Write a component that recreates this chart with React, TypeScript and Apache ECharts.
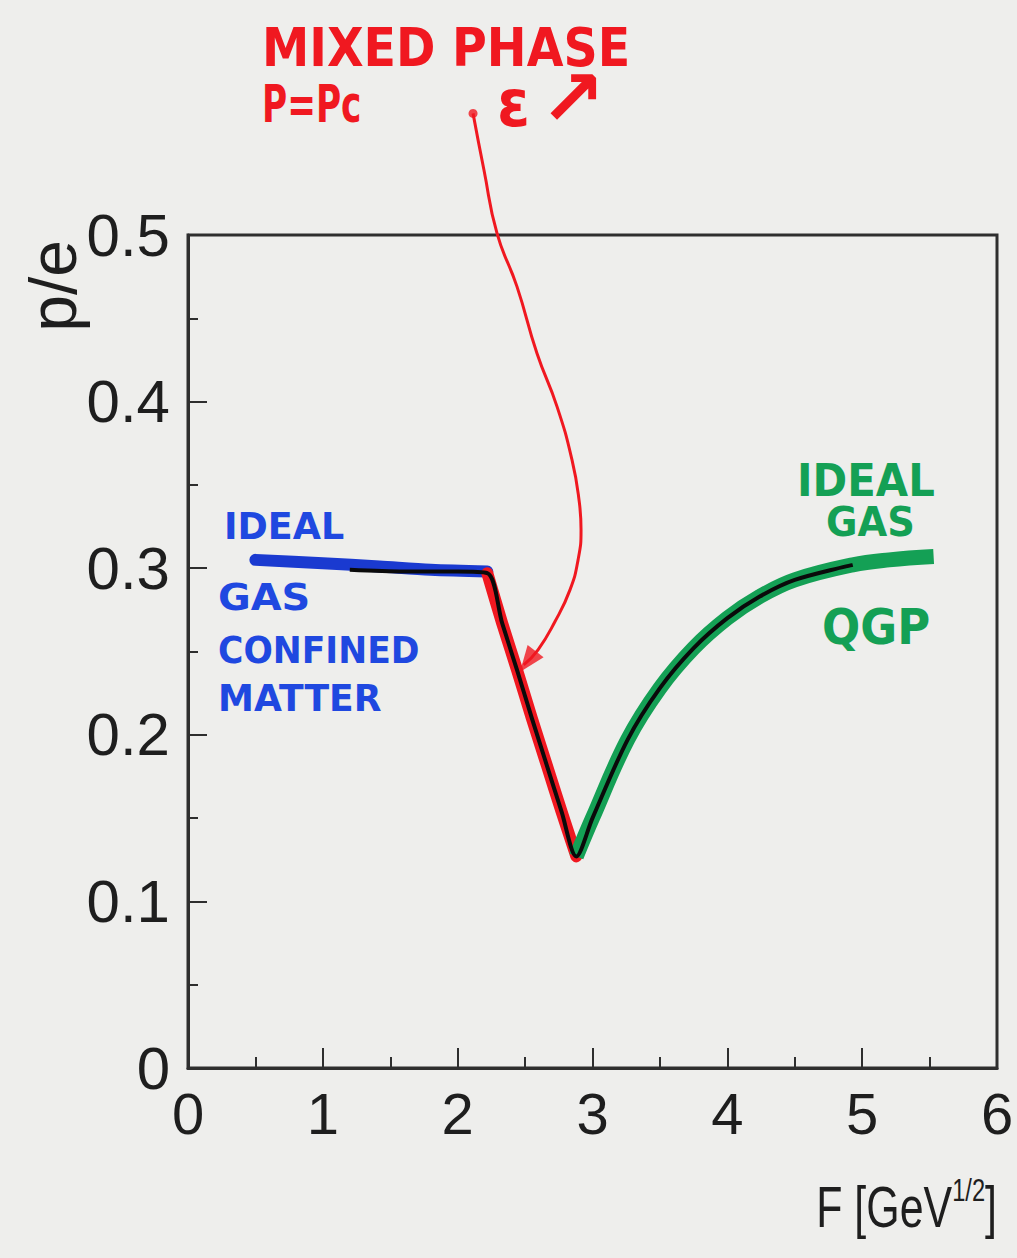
import React, { useEffect, useRef } from "react";
import * as echarts from "echarts";

// ---- data ----
const xTicks = [0, 1, 2, 3, 4, 5, 6];
const yTicks = [0, 0.1, 0.2, 0.3, 0.4, 0.5];

// hadron gas (blue marker)
const blueF = [0.5, 1.0, 1.42, 1.8, 2.22];
const blueV = [0.305, 0.303, 0.301, 0.299, 0.298];

// mixed phase (red marker)
const redF = [2.22, 2.33, 2.44, 2.55, 2.66, 2.77, 2.88];
const redV = [0.297, 0.267, 0.239, 0.21, 0.182, 0.154, 0.127];

// QGP (green marker)
const greenF = [2.88, 3.0, 3.26, 3.5, 3.75, 4.0, 4.24, 4.5, 4.93, 5.2, 5.53];
const greenV = [0.127, 0.15, 0.197, 0.228, 0.252, 0.27, 0.283, 0.293, 0.302, 0.305, 0.307];

// underlying black curve
const blackF = [1.2, 1.6, 2.0, 2.22, 2.33, 2.44, 2.55, 2.66, 2.77, 2.88, 3.0, 3.26, 3.5, 3.75, 4.0, 4.24, 4.5, 4.93];
const blackV = [0.299, 0.298, 0.298, 0.297, 0.267, 0.239, 0.21, 0.182, 0.154, 0.127, 0.15, 0.197, 0.228, 0.252, 0.27, 0.283, 0.293, 0.302];

// hand-drawn annotation arrow (data coordinates)
const arrowF = [2.114, 2.195, 2.292, 2.44, 2.588, 2.737, 2.848, 2.9, 2.915, 2.893, 2.833, 2.722, 2.596, 2.49];
const arrowV = [0.573, 0.539, 0.501, 0.469, 0.429, 0.397, 0.365, 0.341, 0.323, 0.305, 0.287, 0.268, 0.251, 0.242];
const arrowHead = [2.52, 0.244];

const zip = (a: number[], b: number[]) => a.map((v, i) => [v, b[i]]);

const HAND = "'DejaVu Sans', sans-serif";
const RED = "#f01820";
const BLUE = "#1f48e0";
const GREEN = "#14a055";
const AXIS = "#2e2e2e";
const LABEL_FONT = "'Liberation Sans', Arial, sans-serif";

export default function App() {
  const ref = useRef<HTMLDivElement>(null);

  useEffect(() => {
    document.body.style.margin = "0";
    const chart = echarts.init(ref.current!, undefined, { renderer: "svg" });

    const handText = (text: string, x: number, y: number, size: number, color: string, sx = 1) => ({
      type: "text",
      x,
      y,
      scaleX: sx,
      style: {
        text,
        fill: color,
        font: `bold ${size}px ${HAND}`,
        textAlign: "left",
        textVerticalAlign: "middle",
      },
    });

    chart.setOption({
      animation: false,
      backgroundColor: "#eeeeec",
      grid: {
        left: 188,
        top: 235,
        right: 20,
        bottom: 190,
        show: true,
        borderColor: AXIS,
        borderWidth: 3,
        backgroundColor: "transparent",
      },
      xAxis: {
        type: "value",
        min: 0,
        max: 6,
        interval: 1,
        axisLine: { show: true, onZero: false, lineStyle: { color: AXIS, width: 3 } },
        axisTick: { show: true, inside: true, length: 20, lineStyle: { color: AXIS, width: 2 } },
        minorTick: { show: true, splitNumber: 2, length: 11, lineStyle: { color: AXIS, width: 2 } },
        splitLine: { show: false },
        axisLabel: {
          margin: 16,
          fontSize: 58,
          color: "#1e1e1e",
          fontFamily: LABEL_FONT,
          formatter: (v: number) => (xTicks.includes(v) ? String(v) : ""),
        },
      },
      yAxis: {
        type: "value",
        min: 0,
        max: 0.5,
        interval: 0.1,
        axisLine: { show: true, onZero: false, lineStyle: { color: AXIS, width: 3 } },
        axisTick: { show: true, inside: true, length: 19, lineStyle: { color: AXIS, width: 2 } },
        minorTick: { show: true, splitNumber: 2, length: 10, lineStyle: { color: AXIS, width: 2 } },
        splitLine: { show: false },
        axisLabel: {
          margin: 18,
          fontSize: 60,
          color: "#1e1e1e",
          fontFamily: LABEL_FONT,
          formatter: (v: number) => {
            const t = yTicks.find((k) => Math.abs(k - v) < 1e-9);
            return t === undefined ? "" : t === 0 ? "0" : t.toFixed(1);
          },
        },
      },
      series: [
        {
          type: "line",
          data: zip(blueF, blueV),
          showSymbol: false,
          symbol: "none",
          smooth: 0.3,
          lineStyle: { color: "#1a3ad0", width: 12, cap: "round", join: "round" },
          z: 2,
        },
        {
          type: "line",
          data: zip(redF, redV),
          showSymbol: false,
          symbol: "none",
          smooth: 0.3,
          lineStyle: { color: RED, width: 12, cap: "round", join: "round" },
          z: 2,
        },
        {
          type: "line",
          data: zip(greenF, greenV),
          showSymbol: false,
          symbol: "none",
          smooth: 0.4,
          lineStyle: { color: GREEN, width: 15, cap: "butt", join: "round" },
          z: 2,
        },
        {
          type: "line",
          data: zip(blackF, blackV),
          showSymbol: false,
          symbol: "none",
          smooth: 0.3,
          lineStyle: { color: "#0a0a0a", width: 4, join: "round" },
          z: 3,
        },
        {
          type: "line",
          data: zip(arrowF, arrowV),
          showSymbol: false,
          symbol: "none",
          smooth: 0.5,
          clip: false,
          lineStyle: { color: RED, width: 3 },
          z: 4,
        },
        {
          type: "scatter",
          clip: false,
          data: [arrowHead],
          symbol: "triangle",
          symbolSize: [20, 26],
          symbolRotate: 143,
          itemStyle: { color: RED },
          z: 5,
        },
        {
          type: "scatter",
          clip: false,
          data: [[arrowF[0], arrowV[0]]],
          symbol: "circle",
          symbolSize: 9,
          itemStyle: { color: RED },
          z: 5,
        },
      ],
      graphic: [
        // y axis title, rotated
        {
          type: "text",
          x: 53,
          y: 240,
          rotation: Math.PI / 2,
          style: {
            text: "p/e",
            fill: "#1e1e1e",
            font: `66px ${LABEL_FONT}`,
            textAlign: "right",
            textVerticalAlign: "middle",
          },
        },
        // x axis title with superscript
        {
          type: "text",
          x: 997,
          y: 1236,
          scaleX: 0.74,
          style: {
            text: "{a|F [GeV}{s|1/2}{a|]}",
            textAlign: "right",
            textVerticalAlign: "bottom",
            rich: {
              a: { fontSize: 58, fontFamily: LABEL_FONT, fill: "#1e1e1e", lineHeight: 62, verticalAlign: "bottom" },
              s: { fontSize: 32, fontFamily: LABEL_FONT, fill: "#1e1e1e", lineHeight: 62, verticalAlign: "top" },
            },
          },
        },
        handText("MIXED PHASE", 262, 47, 54, RED, 0.88),
        handText("P=Pc", 262, 104, 52, RED, 0.66),
        handText("ε", 497, 103, 66, RED, 0.9),
        handText("↗", 540, 98, 78, RED, 1),
        handText("IDEAL", 224, 526, 38, BLUE, 0.96),
        handText("GAS", 218, 597, 38, BLUE, 1.05),
        handText("CONFINED", 218, 650, 38, BLUE, 0.91),
        handText("MATTER", 218, 698, 38, BLUE, 0.95),
        handText("IDEAL", 797, 481, 44, GREEN, 0.95),
        handText("GAS", 826, 522, 40, GREEN, 0.96),
        handText("QGP", 822, 627, 50, GREEN, 0.9),
      ],
    });

    return () => chart.dispose();
  }, []);

  return <div ref={ref} style={{ width: 1017, height: 1258 }} />;
}
